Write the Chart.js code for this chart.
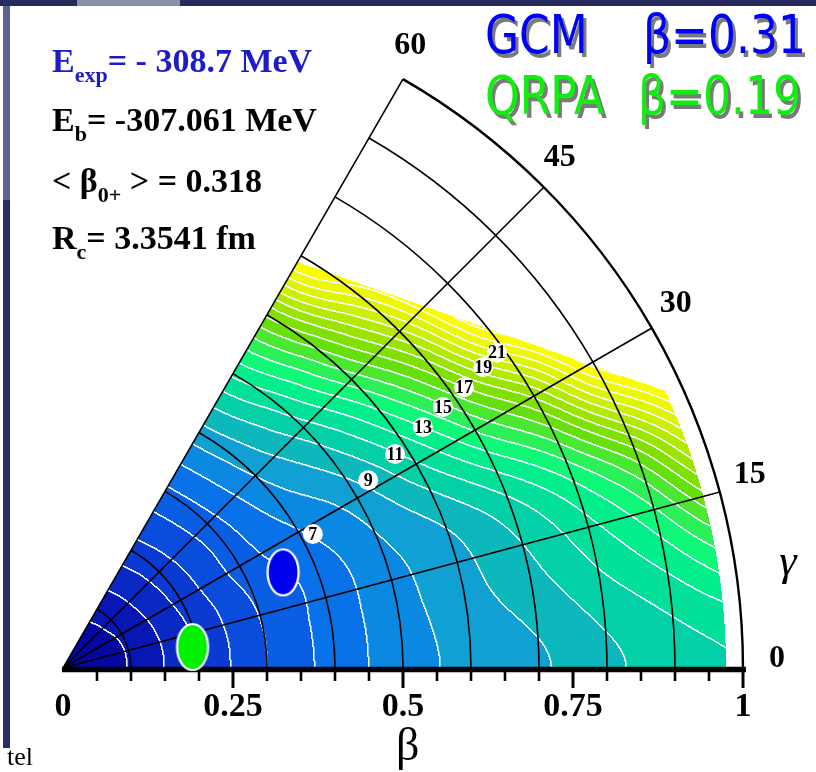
<!DOCTYPE html>
<html><head><meta charset="utf-8">
<script src="https://cdn.jsdelivr.net/npm/chart.js@4.4.1/dist/chart.umd.min.js"></script>
<style>
html,body{margin:0;padding:0;background:#fff;}
#wrap{position:relative;width:816px;height:772px;overflow:hidden;background:#fff;}
#c{position:absolute;left:0;top:0;}
.deco{position:absolute;}
.panel{position:absolute;left:52px;font:bold 34px "Liberation Serif","Times New Roman",serif;line-height:34px;white-space:nowrap;color:#000;}
.panel sub{font-size:22px;vertical-align:baseline;position:relative;top:10px;}
.big{position:absolute;font:44px "DejaVu Sans",Verdana,sans-serif;line-height:44px;white-space:pre;transform:scaleY(1.2);transform-origin:0 37px;text-shadow:3px 3px 0 #7a7a7a;}
.tel{position:absolute;left:7px;top:744px;font:26px "Liberation Serif",serif;line-height:26px;color:#000;}
</style></head>
<body>
<div id="wrap">
<canvas id="c" width="816" height="772"></canvas>
<div class="deco" style="left:0;top:0;width:816px;height:6px;background:#262a5c"></div>
<div class="deco" style="left:77px;top:0;width:103px;height:6px;background:#8a90aa"></div>
<div class="deco" style="left:3px;top:0;width:7px;height:748px;background:#2b2e64"></div>
<div class="deco" style="left:3px;top:6px;width:7px;height:194px;background:#5a648e"></div>
<div class="panel" style="top:44px;color:#1c1cc8">E<sub>exp</sub>= - 308.7 MeV</div>
<div class="panel" style="top:103px">E<sub>b</sub>= -307.061 MeV</div>
<div class="panel" style="top:164px">&lt; β<sub>0+</sub> &gt; = 0.318</div>
<div class="panel" style="top:221px">R<sub>c</sub>= 3.3541 fm</div>
<div class="big" style="left:485px;top:16px;color:#0000ff">GCM</div>
<div class="big" style="left:643px;top:16px;color:#0000ff">β=0.31</div>
<div class="big" style="left:485px;top:77px;color:#10ee10">QRPA</div>
<div class="big" style="left:638px;top:77px;color:#10ee10">β=0.19</div>
<div class="tel">tel</div>
</div>
<script>
// ---------- data ----------
const gridBeta  = [0, 0.1, 0.2, 0.3, 0.4, 0.5, 0.6, 0.7, 0.8, 0.9, 1.0];
const gridGamma = [0, 10, 20, 30, 40, 50, 60];
// energy above the minimum (MeV) on the (beta, gamma) grid
const energyGamma0  = [0, 1.08, 3.06, 5.0, 6.38, 7.55, 8.3, 8.85, 9.77, 10.5, 11.0];
const energyGamma10 = [0, 1.08, 3.08, 5.0, 6.4, 7.6, 8.6, 9.6, 10.9, 12.3, 14.3];
const energyGamma20 = [0, 1.1, 3.15, 5.1, 6.4, 7.8, 9.0, 10.7, 13.0, 16.3, 21.5];
const energyGamma30 = [0, 1.15, 3.3, 5.4, 6.95, 8.5, 10.9, 14.1, 18.2, 24.5, 29];
const energyGamma40 = [0, 1.25, 3.4, 5.5, 7.7, 9.85, 13.2, 17.9, 25, 30, 34];
const energyGamma50 = [0, 1.3, 3.5, 5.7, 8.3, 11.3, 15.7, 21.6, 28, 32, 36];
const energyGamma60 = [0, 1.35, 3.6, 5.8, 8.6, 12.2, 17.2, 24.5, 28, 32, 36];
// limits of the computed surface
const surfaceMaxBeta = 0.975;
const surfaceEdgeBeta  = [0.69, 0.975];
const surfaceEdgeGamma = [60, 24.7];
// one colour per 1 MeV band
const bandColors = ['#0606a0','#0816b4','#0a28c4','#0a3ad2','#0a4cdc','#0a5ee4','#0a72e8','#0a88e2',
  '#10a0d4','#0cb8bc','#04d0a8','#02e09a','#00ee8c','#10f878','#2cf058','#4ce830','#66e00a',
  '#80e000','#9ae400','#b4ea00','#ccf000','#e0f400','#f0f800','#fcfc00','#ffff00'];
// contour labels
const contourLabelLevels = [7, 9, 11, 13, 15, 17, 19, 21];
const contourLabelBeta   = [0.417, 0.527, 0.581, 0.637, 0.678, 0.720, 0.760, 0.789];
const contourLabelGamma  = [28.2, 31.6, 32.8, 33.8, 34.5, 35.0, 35.6, 36.0];
// ground-state deformation markers
const markerNames  = ['GCM', 'QRPA'];
const markerBeta   = [0.353, 0.193];
const markerGamma  = [23.5, 9.2];
const markerColors = ['#0000f0', '#00f000'];
// axes
const betaMajorTicks  = [0, 0.25, 0.5, 0.75, 1];
const betaMajorLabels = ['0', '0.25', '0.5', '0.75', '1'];
const betaMinorTicks  = [0.05, 0.1, 0.15, 0.2, 0.3, 0.35, 0.4, 0.45, 0.55, 0.6, 0.65, 0.7, 0.8, 0.85, 0.9, 0.95];
const arcBetas        = [0.1, 0.2, 0.3, 0.4, 0.5, 0.6, 0.7, 0.8, 0.9, 1.0];
const gammaRayAngles  = [15, 30, 45, 60];
const gammaLabelAngles = [0, 15, 30, 45, 60];
const gammaLabels      = ['0', '15', '30', '45', '60'];

// ---------- helpers ----------
const rad = Math.PI / 180;
const energyRows = [energyGamma0, energyGamma10, energyGamma20, energyGamma30, energyGamma40, energyGamma50, energyGamma60];
function cr(p0, p1, p2, p3, t) {
  return p1 + 0.5 * t * (p2 - p0 + t * (2 * p0 - 5 * p1 + 4 * p2 - p3 + t * (3 * (p1 - p2) + p3 - p0)));
}
function rowVal(i, j) {
  const m = energyRows.length;
  if (i < 0) i = -i;
  if (i > m - 1) i = 2 * (m - 1) - i;
  const row = energyRows[i], n = row.length;
  if (j < 0) return 2 * row[0] - row[1];
  if (j > n - 1) return 2 * row[n - 1] - row[n - 2];
  return row[j];
}
function energyAt(b, g) {
  const db = gridBeta[1] - gridBeta[0], dg = gridGamma[1] - gridGamma[0];
  const v = b / db; const j = Math.min(Math.max(Math.floor(v), 0), gridBeta.length - 2); const s = v - j;
  const u = g / dg; const i = Math.min(Math.max(Math.floor(u), 0), gridGamma.length - 2); const t = u - i;
  const r = [];
  for (let k = -1; k <= 2; k++) r.push(cr(rowVal(i + k, j - 1), rowVal(i + k, j), rowVal(i + k, j + 1), rowVal(i + k, j + 2), s));
  return cr(r[0], r[1], r[2], r[3], t);
}
function cart(b, g) { return { x: b * Math.cos(g * rad), y: b * Math.sin(g * rad) }; }
function hexRgb(h) { return [parseInt(h.substr(1, 2), 16), parseInt(h.substr(3, 2), 16), parseInt(h.substr(5, 2), 16)]; }
const bandRgb = bandColors.map(hexRgb);

const surfacePlugin = {
  id: 'surface',
  beforeDatasetsDraw(chart) {
    const { ctx, scales: { x: xs, y: ys } } = chart;
    const ox = xs.getPixelForValue(0), oy = ys.getPixelForValue(0);
    const L = Math.floor(ox) - 1, R = Math.ceil(xs.getPixelForValue(1)) + 2;
    const T = Math.floor(ys.getPixelForValue(1)) - 1, B = Math.ceil(oy) + 1;
    const W = R - L, H = B - T;
    const A = cart(surfaceEdgeBeta[0], surfaceEdgeGamma[0]);
    const Bp = cart(surfaceEdgeBeta[1], surfaceEdgeGamma[1]);
    const side = (X, Y) => (Bp.x - A.x) * (Y - A.y) - (Bp.y - A.y) * (X - A.x);
    const inSign = Math.sign(side(0, 0));
    const bands = new Int16Array(W * H).fill(-1);
    for (let py = 0; py < H; py++) {
      const Y = ys.getValueForPixel(T + py + 0.5);
      for (let px = 0; px < W; px++) {
        const X = xs.getValueForPixel(L + px + 0.5);
        const b = Math.hypot(X, Y);
        const g = Math.atan2(Y, X) / rad;
        if (g < 0 || g > 60 || b > surfaceMaxBeta) continue;
        if (Math.sign(side(X, Y)) !== inSign) continue;
        const E = energyAt(b, g);
        bands[py * W + px] = Math.min(Math.max(Math.floor(E), 0), bandRgb.length - 1);
      }
    }
    const off = document.createElement('canvas');
    off.width = W; off.height = H;
    const octx = off.getContext('2d');
    const img = octx.createImageData(W, H);
    const d = img.data;
    const white = [242, 250, 252];
    for (let py = 0; py < H; py++) {
      for (let px = 0; px < W; px++) {
        const k = py * W + px, bnd = bands[k];
        if (bnd < 0) continue;
        let main = false, soft = false;
        if (px + 1 < W) { const n = bands[k + 1]; if (n >= 0 && n !== bnd) main = true; }
        if (py + 1 < H) { const n = bands[k + W]; if (n >= 0 && n !== bnd) main = true; }
        if (px > 0) { const n = bands[k - 1]; if (n >= 0 && n !== bnd) soft = true; }
        if (py > 0) { const n = bands[k - W]; if (n >= 0 && n !== bnd) soft = true; }
        let c = bandRgb[bnd];
        if (main) c = white;
        else if (soft) c = [0, 1, 2].map(q => Math.round(0.55 * white[q] + 0.45 * c[q]));
        d[4 * k] = c[0]; d[4 * k + 1] = c[1]; d[4 * k + 2] = c[2]; d[4 * k + 3] = 255;
      }
    }
    octx.putImageData(img, 0, 0);
    ctx.drawImage(off, L, T);

    ctx.save();
    ctx.strokeStyle = '#000';
    arcBetas.forEach(b => {
      const r = xs.getPixelForValue(b) - ox;
      ctx.lineWidth = b === 1 ? 2.4 : 1.6;
      ctx.beginPath(); ctx.arc(ox, oy, r, 0, -60 * rad, true); ctx.stroke();
    });
    gammaRayAngles.forEach(g => {
      const p = cart(1, g);
      ctx.lineWidth = 1.6;
      ctx.beginPath(); ctx.moveTo(ox, oy);
      ctx.lineTo(xs.getPixelForValue(p.x), ys.getPixelForValue(p.y)); ctx.stroke();
    });
    ctx.lineWidth = 5.5;
    ctx.beginPath(); ctx.moveTo(ox - 1, oy + 1.5); ctx.lineTo(xs.getPixelForValue(1) + 3, oy + 1.5); ctx.stroke();
    ctx.lineWidth = 2.6;
    betaMinorTicks.forEach(b => {
      const x = Math.round(xs.getPixelForValue(b));
      ctx.beginPath(); ctx.moveTo(x, oy + 3); ctx.lineTo(x, oy + 13); ctx.stroke();
    });
    ctx.lineWidth = 3;
    betaMajorTicks.forEach(b => {
      if (b === 0) return;
      const x = Math.round(xs.getPixelForValue(b));
      ctx.beginPath(); ctx.moveTo(x, oy + 3); ctx.lineTo(x, oy + 20); ctx.stroke();
    });
    ctx.fillStyle = '#000';
    ctx.font = 'bold 34px "Liberation Serif", "Times New Roman", serif';
    ctx.textAlign = 'center'; ctx.textBaseline = 'alphabetic';
    betaMajorTicks.forEach((b, i) => ctx.fillText(betaMajorLabels[i], xs.getPixelForValue(b), oy + 48));
    ctx.font = '46px "Liberation Serif", "Times New Roman", serif';
    ctx.fillText('β', xs.getPixelForValue(0.507), oy + 92);
    ctx.font = 'bold 32px "Liberation Serif", "Times New Roman", serif';
    ctx.textBaseline = 'middle';
    gammaLabelAngles.forEach((g, i) => {
      const p = cart(1.05, g + 0.9);
      ctx.fillText(gammaLabels[i], xs.getPixelForValue(p.x), ys.getPixelForValue(p.y) + 2);
    });
    ctx.font = 'italic 44px "Liberation Serif", "Times New Roman", serif';
    const pg = cart(1.077, 8.2);
    ctx.fillText('γ', xs.getPixelForValue(pg.x), ys.getPixelForValue(pg.y));
    ctx.restore();
  },
  afterDatasetsDraw(chart) {
    const { ctx, scales: { x: xs, y: ys } } = chart;
    ctx.save();
    contourLabelLevels.forEach((lev, i) => {
      const p = cart(contourLabelBeta[i], contourLabelGamma[i]);
      const x = xs.getPixelForValue(p.x), y = ys.getPixelForValue(p.y);
      ctx.fillStyle = '#ffffff';
      ctx.beginPath(); ctx.arc(x, y, 10, 0, 2 * Math.PI); ctx.fill();
      ctx.fillStyle = '#000';
      ctx.font = 'bold 18px "Liberation Serif", "Times New Roman", serif';
      ctx.textAlign = 'center'; ctx.textBaseline = 'middle';
      ctx.fillText(String(lev), x, y + 1);
    });
    ctx.restore();
  }
};

function ellipseImage(color) {
  const c = document.createElement('canvas');
  c.width = 36; c.height = 52;
  const g = c.getContext('2d');
  g.fillStyle = color; g.strokeStyle = '#ffffff'; g.lineWidth = 2.2;
  g.beginPath(); g.ellipse(18, 26, 15.5, 23, 0, 0, 2 * Math.PI); g.fill(); g.stroke();
  return c;
}

const markerPoints = markerBeta.map((b, i) => cart(b, markerGamma[i]));

new Chart(document.getElementById('c'), {
  type: 'scatter',
  data: {
    datasets: [{
      label: 'deformation',
      data: markerPoints,
      pointStyle: markerColors.map(ellipseImage),
      pointRadius: 20
    }]
  },
  options: {
    responsive: false,
    animation: false,
    devicePixelRatio: 1,
    events: [],
    layout: { padding: 0, autoPadding: false },
    plugins: { legend: { display: false }, tooltip: { enabled: false } },
    scales: {
      x: { type: 'linear', min: -0.0926, max: 1.1074, display: false },
      y: { type: 'linear', min: -0.1529, max: 0.9824, display: false }
    }
  },
  plugins: [surfacePlugin]
});
</script>
</body></html>
